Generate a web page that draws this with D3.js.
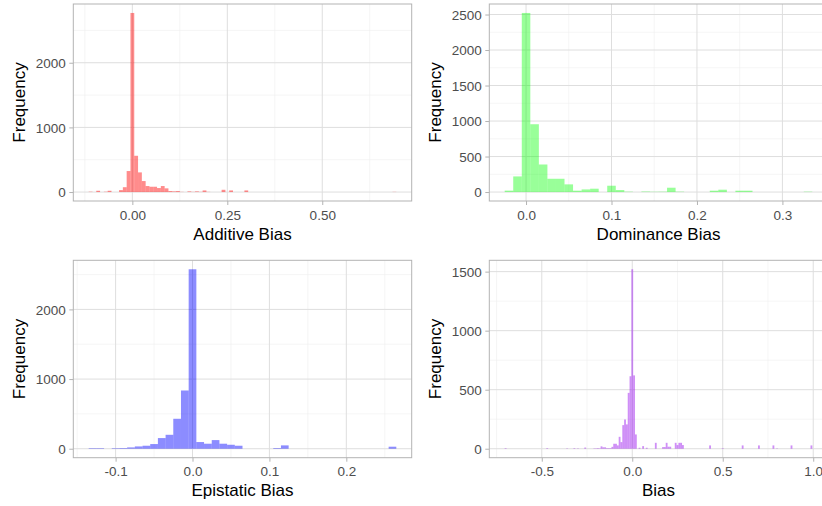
<!DOCTYPE html>
<html><head><meta charset="utf-8">
<script src="https://cdn.jsdelivr.net/npm/d3@7"></script>
<style>
body{margin:0;background:#fff;overflow:hidden}
svg{display:block}
text{font-family:"Liberation Sans",Arial,Helvetica,sans-serif}
</style>
</head><body>
<svg id="chart" width="822" height="506"></svg>
<script>
// ---------------- DATA ----------------
const binWidth = 0.01;

const additiveStart = -0.115;
const additiveCounts = [
  5,0,20,0,5,20,0,0,30,75,
  325,2770,561,304,170,93,82,82,62,93,
  57,15,10,15,3,0,10,3,10,3,
  25,3,0,0,0,35,0,25,0,0,
  0,25,0,0,0,0,0,0,0,0,
  0,0,0,0,0,0,0,0,0,0,
  0,0,0,0,0,0,0,0,0,0,
  0,0,0,0,0,0,0,0,0,0,
  3
];
const additiveXTicks = [0, 0.25, 0.5];
const additiveXLabels = ["0.00", "0.25", "0.50"];
const additiveYTicks = [0, 1000, 2000];

const dominanceStart = -0.025;
const dominanceCounts = [
  20,220,2522,955,388,187,187,108,19,37,
  47,0,89,28,5,0,7,4,5,61,
  5,0,0,0,19,33,0,19,19,0,
  0,0,0,0,0,5
];
const dominanceXTicks = [0, 0.1, 0.2, 0.3];
const dominanceXLabels = ["0.0", "0.1", "0.2", "0.3"];
const dominanceYTicks = [0, 500, 1000, 1500, 2000, 2500];

const epistaticStart = -0.135;
const epistaticCounts = [
  8,8,0,8,10,19,33,43,67,153,
  200,430,836,2576,96,72,124,72,57,43,
  0,0,0,0,10,48,0,0,0,0,
  0,0,0,0,0,0,0,0,0,29
];
const epistaticXTicks = [-0.1, 0, 0.1, 0.2];
const epistaticXLabels = ["-0.1", "0.0", "0.1", "0.2"];
const epistaticYTicks = [0, 1000, 2000];

const biasStart = -0.705;
const biasCounts = [
  5,0,0,0,0,0,0,0,0,0,
  0,0,0,0,0,0,0,0,0,0,
  0,0,0,5,0,0,0,0,0,0,
  0,0,0,0,3,0,0,0,5,0,
  3,0,0,0,10,0,0,0,0,3,
  3,5,3,20,12,12,5,5,5,16,
  42,42,28,101,56,200,248,206,473,614,
  1520,621,121,0,8,0,22,0,8,0,
  0,0,0,50,0,0,0,14,14,50,
  17,17,0,0,50,31,50,50,31,0,
  0,0,0,0,0,0,0,0,0,0,
  0,0,0,28,0,0,0,0,0,0,
  5,0,0,0,0,0,0,0,0,0,
  0,28,0,0,0,0,0,0,0,0,
  28,0,0,0,0,0,0,0,28,0,
  3,0,0,0,0,0,0,0,28,0,
  0,0,0,0,0,0,0,0,0,28
];
const biasXTicks = [-0.5, 0, 0.5, 1.0];
const biasXLabels = ["-0.5", "0.0", "0.5", "1.0"];
const biasYTicks = [0, 500, 1000, 1500];

const xTitles = ["Additive Bias", "Dominance Bias", "Epistatic Bias", "Bias"];
const yTitle = "Frequency";
const fillColors = ["#ff0000", "#00ff00", "#0000ff", "#a020f0"];
const fillAlpha = [0.45, 0.4, 0.45, 0.5];

// ---------------- LAYOUT ----------------
const svg = d3.select("#chart");
const panels = [
  {start: additiveStart, counts: additiveCounts, xt: additiveXTicks, xl: additiveXLabels, yt: additiveYTicks,
   left: 73.3, right: 411.7, top: 4, bottom: 201},
  {start: dominanceStart, counts: dominanceCounts, xt: dominanceXTicks, xl: dominanceXLabels, yt: dominanceYTicks,
   left: 489.3, right: 827.7, top: 4, bottom: 201},
  {start: epistaticStart, counts: epistaticCounts, xt: epistaticXTicks, xl: epistaticXLabels, yt: epistaticYTicks,
   left: 73.3, right: 411.7, top: 260.3, bottom: 457.7},
  {start: biasStart, counts: biasCounts, xt: biasXTicks, xl: biasXLabels, yt: biasYTicks,
   left: 489.3, right: 827.7, top: 260.3, bottom: 457.7}
];

function minorBreaks(major, dom) {
  const step = major[1] - major[0];
  const out = [];
  for (let i = -1; i < major.length; i++) {
    const m = (i < 0 ? major[0] - step : major[i]) + step / 2;
    if (m > dom[0] && m < dom[1]) out.push(m);
  }
  return out;
}

panels.forEach((p, idx) => {
  const n = p.counts.length;
  const lo = p.start, hi = p.start + n * binWidth;
  const ymax = d3.max(p.counts);
  const xd = [lo - 0.05 * (hi - lo), hi + 0.05 * (hi - lo)];
  const yd = [-0.05 * ymax, 1.05 * ymax];
  const x = d3.scaleLinear().domain(xd).range([p.left, p.right]);
  const y = d3.scaleLinear().domain(yd).range([p.bottom, p.top]);
  const g = svg.append("g");

  // minor grid
  const xm = minorBreaks(p.xt, xd), ym = minorBreaks(p.yt, yd);
  g.selectAll(".xmin").data(xm).join("line")
    .attr("x1", d => x(d)).attr("x2", d => x(d)).attr("y1", p.top).attr("y2", p.bottom)
    .attr("stroke", "#eeeeee").attr("stroke-width", 0.6);
  g.selectAll(".ymin").data(ym).join("line")
    .attr("x1", p.left).attr("x2", p.right).attr("y1", d => y(d)).attr("y2", d => y(d))
    .attr("stroke", "#eeeeee").attr("stroke-width", 0.6);
  // major grid
  g.selectAll(".xmaj").data(p.xt).join("line")
    .attr("x1", d => x(d)).attr("x2", d => x(d)).attr("y1", p.top).attr("y2", p.bottom)
    .attr("stroke", "#dedede").attr("stroke-width", 1);
  g.selectAll(".ymaj").data(p.yt).join("line")
    .attr("x1", p.left).attr("x2", p.right).attr("y1", d => y(d)).attr("y2", d => y(d))
    .attr("stroke", "#dedede").attr("stroke-width", 1);

  // bars
  const bins = p.counts.map((c, i) => ({x0: p.start + i * binWidth, x1: p.start + (i + 1) * binWidth, c}))
    .filter(b => b.c > 0);
  g.selectAll(".bar").data(bins).join("rect")
    .attr("x", d => x(d.x0)).attr("width", d => x(d.x1) - x(d.x0))
    .attr("y", d => y(d.c)).attr("height", d => y(0) - y(d.c))
    .attr("fill", fillColors[idx]).attr("fill-opacity", fillAlpha[idx]);

  // border
  g.append("rect").attr("x", p.left).attr("y", p.top)
    .attr("width", p.right - p.left).attr("height", p.bottom - p.top)
    .attr("fill", "none").attr("stroke", "#b3b3b3").attr("stroke-width", 1);

  // axes
  const ax = g.append("g").attr("transform", `translate(0,${p.bottom})`)
    .call(d3.axisBottom(x).tickValues(p.xt).tickFormat((d, i) => p.xl[i]).tickSize(4).tickSizeOuter(0));
  ax.select(".domain").remove();
  ax.selectAll("line").attr("stroke", "#b3b3b3");
  ax.selectAll("text").attr("y", 18.5).attr("dy", 0).attr("fill", "#4d4d4d")
    .style("font-size", "13.5px").style("font-family", '"Liberation Sans",Arial,sans-serif');

  const ay = g.append("g").attr("transform", `translate(${p.left},0)`)
    .call(d3.axisLeft(y).tickValues(p.yt).tickFormat(d3.format("d")).tickSize(4).tickSizeOuter(0));
  ay.select(".domain").remove();
  ay.selectAll("line").attr("stroke", "#b3b3b3");
  ay.selectAll("text").attr("x", -7.5).attr("dy", "0.35em").attr("fill", "#4d4d4d")
    .style("font-size", "13.5px").style("font-family", '"Liberation Sans",Arial,sans-serif');

  // titles
  g.append("text").attr("x", (p.left + p.right) / 2).attr("y", p.bottom + 38.5)
    .attr("text-anchor", "middle").attr("fill", "#000").style("font-size", "17px")
    .text(xTitles[idx]);
  g.append("text").attr("transform", `translate(${p.left - 48.3},${(p.top + p.bottom) / 2}) rotate(-90)`)
    .attr("text-anchor", "middle").attr("fill", "#000").style("font-size", "17px")
    .text(yTitle);
});
</script>
</body></html>
